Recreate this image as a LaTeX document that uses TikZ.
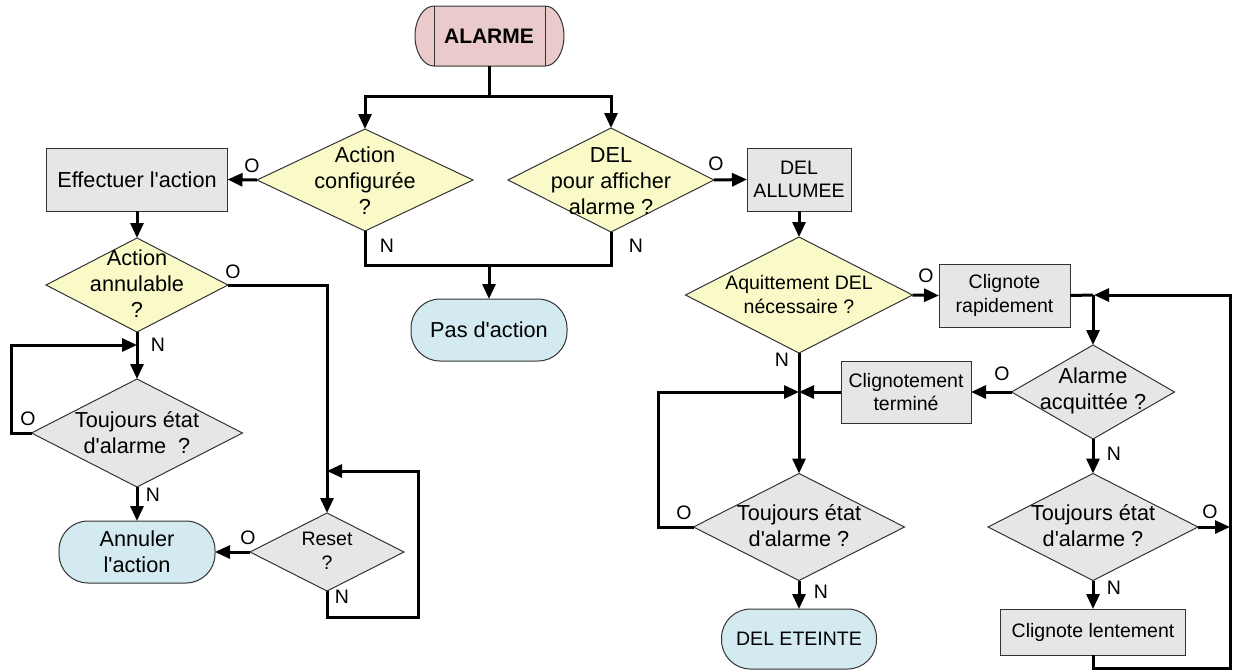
\documentclass[tikz,border=0pt]{standalone}
\usepackage{fontspec}
\setmainfont{Liberation Sans}
\usetikzlibrary{shapes.geometric,arrows.meta}
\definecolor{alarmpink}{RGB}{234,202,202}
\definecolor{decyellow}{RGB}{250,250,200}
\definecolor{boxgray}{RGB}{230,230,230}
\definecolor{termblue}{RGB}{210,234,240}
\newcommand\apos{\textquotesingle}
\begin{document}
\begin{tikzpicture}[x=1pt,y=-1pt,
  conn/.style={line width=3pt, draw=black},
  arr/.style={conn, -{Triangle[length=15pt,width=13pt]}},
  shp/.style={draw=black!80, line width=1pt, inner sep=0pt, outer sep=0pt},
  procbox/.style 2 args={shp, rectangle, fill=boxgray, minimum width=#1pt, minimum height=#2pt},
  termbox/.style 2 args={shp, rectangle, rounded corners=29pt, fill=termblue, minimum width=#1pt, minimum height=#2pt},
  diam/.style 2 args={shp, diamond, minimum width=#1pt, minimum height=#2pt},
  yel/.style={fill=decyellow},
  gry/.style={fill=boxgray},
  big/.style={font=\fontsize{21.7}{26}\selectfont, align=center, inner sep=0pt},
  small/.style={font=\fontsize{19.5}{23.5}\selectfont, align=center, inner sep=0pt},
  lab/.style={font=\fontsize{19.5}{23.5}\selectfont, inner sep=0pt}
]
\useasboundingbox (0,0) rectangle (1233,670);

% ALARME terminator
\draw[shp, fill=alarmpink] (434,6) -- (545,6) arc[start angle=-90,end angle=90,x radius=19,y radius=30] -- (434,66) arc[start angle=90,end angle=270,x radius=19,y radius=30] -- cycle;
\draw[shp] (434,6) -- (434,66) (545,6) -- (545,66);
\node[inner sep=0pt, minimum width=149pt, minimum height=60pt, font=\fontsize{21}{25}\selectfont\bfseries] (alarme) at (489,36) {ALARME};

% decisions and boxes
\node[diam={216}{102}, yel] (d1) at (365,180) {};
\node[big] (d1t) at (365,181) {Action\\configurée\\?};
\node[diam={206}{104}, yel] (d2) at (611,180) {};
\node[big] (d2t) at (611,181) {DEL\\pour afficher\\alarme ?};
\node[procbox={181}{63}, big] (eff) at (137,179.5) {Effectuer l\apos action};
\node[procbox={104}{63}, small] (allumee) at (799,179.5) {DEL\\ALLUMEE};
\node[termbox={156}{62}, big] (pas) at (489,330) {Pas d\apos action};
\node[diam={182}{94}, yel] (d3) at (137,285) {};
\node[big] (d3t) at (137,284) {Action\\annulable\\?};
\node[diam={211}{108}, gry] (t1) at (137,433) {};
\node[big] (t1t) at (137,432.5) {Toujours état\\d\apos alarme\ \ ?};
\node[termbox={156}{62}, big] (ann) at (137,552) {Annuler\\l\apos action};
\node[diam={154}{78}, gry] (reset) at (327,552) {};
\node[small] (resett) at (327,551) {Reset\\?};
\node[diam={227}{116}, yel] (d4) at (799,295) {};
\node[small] (d4t) at (799,294.5) {Aquittement DEL\\nécessaire ?};
\node[procbox={131}{63}, small] (crap) at (1004.5,295.5) {Clignote\\rapidement};
\node[diam={163}{94}, gry] (d5) at (1093,392) {};
\node[big] (d5t) at (1093,391) {Alarme\\acquittée ?};
\node[procbox={130}{62}, small] (cterm) at (906,392) {Clignotement\\terminé};
\node[diam={211}{107}, gry] (t2) at (799,527) {};
\node[big] (t2t) at (799,526) {Toujours état\\d\apos alarme ?};
\node[termbox={155}{60}, small] (eteinte) at (799,639) {DEL ETEINTE};
\node[diam={210}{107}, gry] (t3) at (1093,527) {};
\node[big] (t3t) at (1093,526) {Toujours état\\d\apos alarme ?};
\node[procbox={185}{46}, small] (lent) at (1093,632) {Clignote lentement};

% junctions
\coordinate (j1) at (489,96);
\coordinate (j2) at (489,265);
\coordinate (j4) at (137,345);
\coordinate (j5) at (327,471);
\coordinate (j6) at (1093,295);
\coordinate (j6r) at (1094,295);
\coordinate (j7) at (799,392);
\coordinate (j8) at (1230,527);
\coordinate (j9) at (1230,668);

% connectors
\draw[conn] (alarme.south) -- (j1);
\draw[arr] (j1) -| (d1.north);
\draw[arr] (j1) -| (d2.north);
\draw[arr] (d1.west) -- (eff.east);
\draw[arr] (d2.east) -- (allumee.west);
\draw[conn] (d1.south) |- (j2) -| (d2.south);
\draw[arr] (j2) -- (pas.north);
\draw[arr] (eff.south) -- (d3.north);
\draw[arr] (d3.east) -| (reset.north);
\draw[arr] (d3.south) -- (t1.north);
\draw[arr] (t1.west) -- ++(-20,0) |- (j4);
\draw[arr] (t1.south) -- (ann.north);
\draw[arr] (reset.west) -- (ann.east);
\draw[arr] (reset.south) -- ++(0,26) -- ++(91,0) |- (j5);
\draw[arr] (allumee.south) -- (d4.north);
\draw[arr] (d4.east) -- (crap.west);
\draw[conn] (crap.east) -- (j6);
\draw[arr] (j6) -- (d5.north);
\draw[arr] (d5.west) -- (cterm.east);
\draw[arr] (cterm.west) -- (j7);
\draw[arr] (d4.south) -- (t2.north);
\draw[arr] (t2.west) -- ++(-35,0) |- (j7);
\draw[arr] (t2.south) -- (eteinte.north);
\draw[arr] (d5.south) -- (t3.north);
\draw[arr] (t3.east) -- (j8);
\draw[arr] (t3.south) -- (lent.north);
\draw[arr] (lent.south) |- (j9) |- (j6r);

% O / N labels
\node[lab] (l1) at (252,166) {O};
\node[lab] (l2) at (716,164) {O};
\node[lab] (l3) at (387,246) {N};
\node[lab] (l4) at (636,246) {N};
\node[lab] (l5) at (233,272) {O};
\node[lab] (l6) at (158,345) {N};
\node[lab] (l7) at (28,419) {O};
\node[lab] (l8) at (153,495) {N};
\node[lab] (l9) at (248,538) {O};
\node[lab] (l10) at (342,597) {N};
\node[lab] (l11) at (926,276) {O};
\node[lab] (l12) at (782,360) {N};
\node[lab] (l13) at (1002,374) {O};
\node[lab] (l14) at (684,513) {O};
\node[lab] (l15) at (821,592) {N};
\node[lab] (l16) at (1114,454) {N};
\node[lab] (l17) at (1210,512) {O};
\node[lab] (l18) at (1114,588) {N};
\end{tikzpicture}
\end{document}
